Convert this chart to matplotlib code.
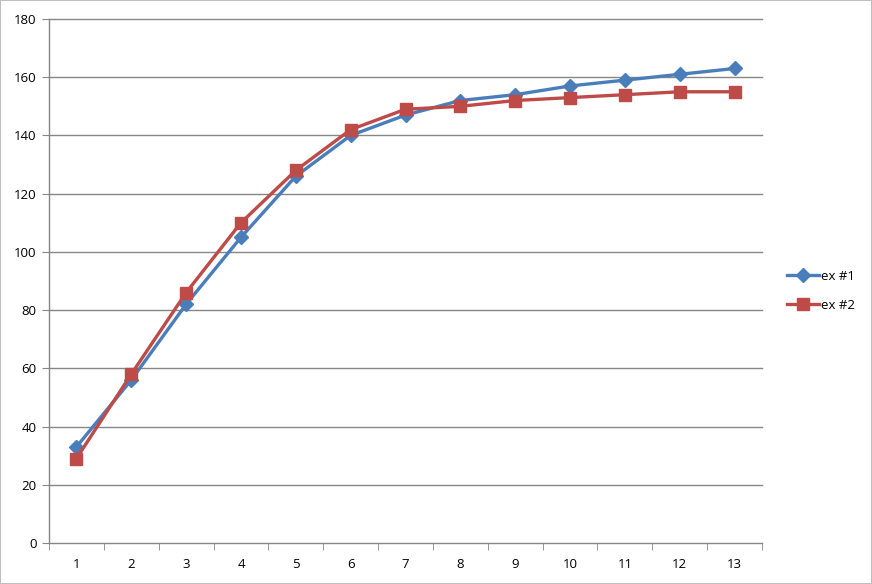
import matplotlib
matplotlib.use("Agg")
import matplotlib.pyplot as plt
from matplotlib.patches import Rectangle

categories = [1, 2, 3, 4, 5, 6, 7, 8, 9, 10, 11, 12, 13]
ex1 = [33, 56, 82, 105, 126, 140, 147, 152, 154, 157, 159, 161, 163]
ex2 = [29, 58, 86, 110, 128, 142, 149, 150, 152, 153, 154, 155, 155]
yticks = list(range(0, 181, 20))

plt.rcParams['font.family'] = ['Open Sans', 'DejaVu Sans']
fig = plt.figure(figsize=(8.72, 5.84), dpi=100)
ax = fig.add_axes([49/872, 1-543/584, 713/872, 524/584])

grid_c = '#868686'
ax.set_ylim(0, 180)
ax.set_xlim(0.5, len(categories) + 0.5)
ax.set_yticks(yticks)
for y in yticks[1:]:
    ax.axhline(y, color=grid_c, lw=1.0, zorder=1, clip_on=False)

ax.plot(categories, ex1, color='#4A7EBB', lw=2.4, marker='D', ms=7,
        label='ex #1', zorder=3)
ax.plot(categories, ex2, color='#BE4B48', lw=2.4, marker='s', ms=8,
        label='ex #2', zorder=3)

ax.set_xticks(categories)
ax.set_xticks([c + 0.5 for c in [0] + categories], minor=True)
ax.tick_params(axis='x', which='major', length=0, pad=11, labelsize=9.5)
ax.tick_params(axis='x', which='minor', length=5, color=grid_c, direction='out')
ax.tick_params(axis='y', length=5, color=grid_c, labelsize=9.5, pad=4)

for s in ['top', 'right']:
    ax.spines[s].set_visible(False)
for s in ['left', 'bottom']:
    ax.spines[s].set_color(grid_c)
    ax.spines[s].set_linewidth(1.0)

leg = fig.legend(loc='center left', bbox_to_anchor=(775/872, 1-291/584),
                 frameon=False, fontsize=9.5, handlelength=2.4,
                 labelspacing=1.2, handletextpad=0.2)

fig.patches.append(Rectangle((0, 0), 1, 1, transform=fig.transFigure,
                             fill=False, edgecolor='#BFBFBF', lw=1.5))
fig.savefig('out.png', dpi=100)
